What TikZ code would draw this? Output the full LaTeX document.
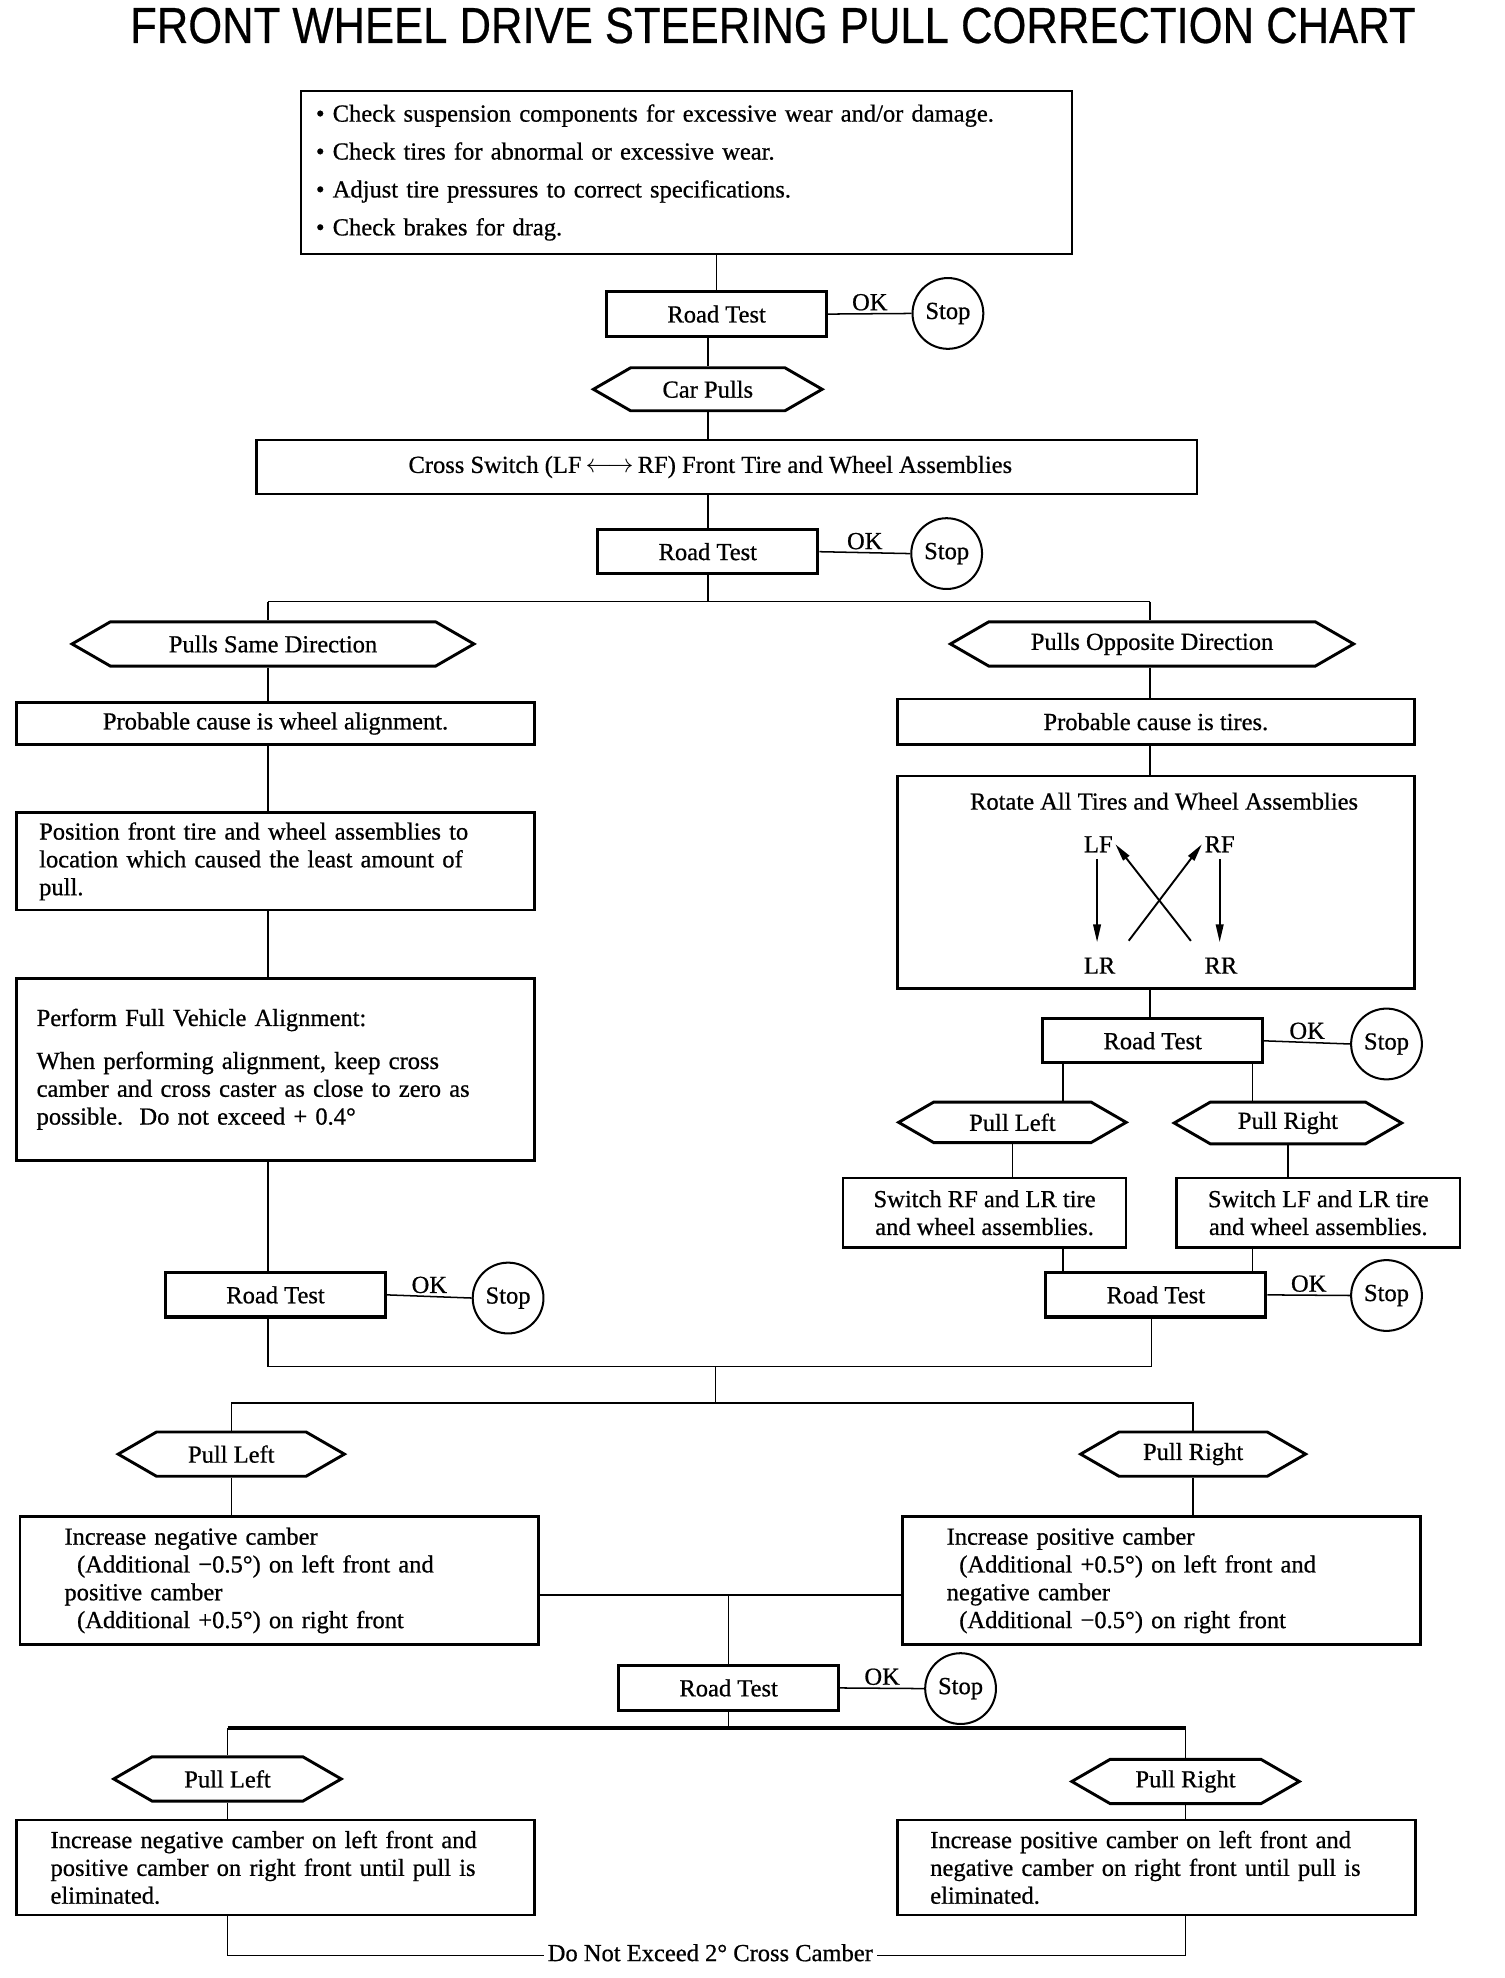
\documentclass[tikz,border=0pt]{standalone}
\usepackage{fontspec}
\setmainfont{Liberation Serif}[FakeBold=0.7]
\setsansfont{Liberation Sans}[FakeBold=0.5]
\usetikzlibrary{shapes.symbols,arrows.meta}

\tikzset{
  conn/.style={line width=1.2pt},
  box/.style={draw, line width=2pt, inner sep=0pt, align=center},
  lbox/.style={box, align=left},
  rtest/.style={draw, line width=2.4pt, inner sep=0pt, minimum width=174pt, minimum height=35pt},
  hexa/.style={draw, line width=2.3pt, shape=signal, signal to=west and east, signal pointer angle=60, inner sep=0pt, minimum height=35pt},
  stopc/.style={draw, circle, line width=1.6pt, minimum size=56pt, inner sep=0pt},
  oklab/.style={midway, above, inner sep=2pt},
  tyre/.style={inner sep=2pt},
  rarrow/.style={line width=1.5pt, -{Triangle[length=14pt,width=6pt]}},
}

\begin{document}
\begin{tikzpicture}[x=1pt, y=-1pt, every node/.style={font=\fontsize{19.4}{22}\selectfont}]
\useasboundingbox (0,0) rectangle (1190,1565);

% title
\node[anchor=base, inner sep=0pt] (title) at (611.5,34) {\resizebox{1017pt}{28pt}{\sffamily FRONT WHEEL DRIVE STEERING PULL CORRECTION CHART}};

% checks and first road test
\node[lbox, text width=586pt, inner xsep=12pt, minimum height=129pt, font=\fontsize{19.4}{30}\selectfont] (chk) at (543,136.5)
  {\textbullet\ Check suspension components for excessive wear and/or damage.\\
   \textbullet\ Check tires for abnormal or excessive wear.\\
   \textbullet\ Adjust tire pressures to correct specifications.\\
   \textbullet\ Check brakes for drag.};
\node[rtest] (rt1) at (567,248.5) {Road Test};
\node[stopc] (stop1) at (750,248) {Stop};
\draw[conn] (chk.south -| rt1) -- (rt1.north);
\draw[conn] (rt1.east) -- (stop1.west) node[oklab] {OK};

\node[hexa, minimum width=181pt, minimum height=34pt] (cp) at (560,308) {Car Pulls};
\draw[conn] (rt1.south -| cp) -- (cp.north);

\node[box, minimum width=744pt, minimum height=43pt] (cs) at (575,369.5)
  {Cross Switch (LF\,$\longleftrightarrow$\,RF) Front Tire and Wheel Assemblies\hspace*{26pt}};
\draw[conn] (cp.south) -- (cp.south |- cs.north);

\node[rtest] (rt2) at (560,436.5) {Road Test};
\node[stopc] (stop2) at (749,438) {Stop};
\draw[conn] (cs.south -| rt2) -- (rt2.north);
\draw[conn] (rt2.east) -- (stop2.west) node[oklab] {OK};

% split
\coordinate (lcol) at (212,476);
\coordinate (rcol) at (910,476);
\draw[conn] (rt2.south) -- (rt2.south |- lcol);
\draw[conn] (lcol) -- (rcol);
\node[hexa, minimum width=318pt] (psd) at (216,509.5) {Pulls Same Direction};
\node[hexa, minimum width=319pt] (pod) at (911.5,509.5) {Pulls Opposite Direction};
\draw[conn] (lcol) -- (lcol |- psd.north);
\draw[conn] (rcol) -- (rcol |- pod.north);

% left side
\node[box, minimum width=410pt, minimum height=33pt] (pcw) at (218,572.5) {Probable cause is wheel alignment.};
\node[lbox, text width=374pt, inner xsep=18pt, minimum height=77pt] (pos) at (218,681.5)
  {Position front tire and wheel assemblies to\\
   location which caused the least amount of\\
   pull.};
\node[lbox, text width=378pt, inner xsep=16pt, minimum height=144pt] (pfa) at (218,846)
  {Perform Full Vehicle Alignment:\\[12pt]
   When performing alignment, keep cross\\
   camber and cross caster as close to zero as\\
   possible.\ \ Do not exceed + 0.4°};
\node[rtest] (rt3) at (218,1024.5) {Road Test};
\node[stopc] (stop3) at (402,1027) {Stop};
\draw[conn] (psd.south -| lcol) -- (pcw.north -| lcol);
\draw[conn] (pcw.south -| lcol) -- (pos.north -| lcol);
\draw[conn] (pos.south -| lcol) -- (pfa.north -| lcol);
\draw[conn] (pfa.south -| lcol) -- (rt3.north -| lcol);
\draw[conn] (rt3.east) -- (stop3.west) node[oklab] {OK};

% right side
\node[box, minimum width=409pt, minimum height=36pt] (pct) at (914.5,571) {Probable cause is tires.};
\node[box, minimum width=409pt, minimum height=168pt] (rot) at (914.5,698) {};
\node (rott) at (921,634) {Rotate All Tires and Wheel Assemblies};
\node[tyre] (lf) at (869,668) {LF};
\node[tyre] (rf) at (965,668) {RF};
\node[tyre] (lr) at (870,764) {LR};
\node[tyre] (rr) at (966,764) {RR};
\draw[rarrow, shorten <=3pt, shorten >=10pt] (lf.south -| 868,0) -- (lr.north -| 868,0);
\draw[rarrow, shorten <=3pt, shorten >=10pt] (rf.south) -- (rr.north -| rf.south);
\draw[rarrow, shorten <=14pt] (rr.north west) -- (lf.east);
\draw[rarrow, shorten <=14pt] (lr.north east) -- (rf.west);
\draw[conn] (pod.south -| rcol) -- (pct.north -| rcol);
\draw[conn] (pct.south -| rcol) -- (rot.north -| rcol);

\node[rtest] (rt4) at (912,823.5) {Road Test};
\node[stopc] (stop4) at (1097,826) {Stop};
\draw[conn] (rot.south -| rcol) -- (rt4.north -| rcol);
\draw[conn] (rt4.east) -- (stop4.west) node[oklab] {OK};

\coordinate (llane) at (841,0);
\coordinate (rlane) at (991,0);
\node[hexa, minimum width=180pt, minimum height=32pt] (pl1) at (801,888) {Pull Left};
\node[hexa, minimum width=180pt, minimum height=33pt] (pr1) at (1019,888.5) {Pull Right};
\draw[conn] (rt4.south -| llane) -- (pl1.north -| llane);
\draw[conn] (rt4.south -| rlane) -- (pr1.north -| rlane);
\node[box, minimum width=224pt, minimum height=55pt] (swrf) at (779,959.5) {Switch RF and LR tire\\and wheel assemblies.};
\node[box, minimum width=224pt, minimum height=55pt] (swlf) at (1043,959.5) {Switch LF and LR tire\\and wheel assemblies.};
\draw[conn] (pl1.south) -- (pl1.south |- swrf.north);
\draw[conn] (pr1.south) -- (pr1.south |- swlf.north);

\node[rtest] (rt5) at (914.5,1024.5) {Road Test};
\node[stopc] (stop5) at (1097,1025) {Stop};
\draw[conn] (swrf.south -| llane) -- (rt5.north -| llane);
\draw[conn] (swlf.south -| rlane) -- (rt5.north -| rlane);
\draw[conn] (rt5.east) -- (stop5.west) node[oklab] {OK};

% join
\coordinate (j2l) at (212,1081);
\coordinate (j2r) at (911,1081);
\coordinate (j2m) at (566,1081);
\coordinate (j3m) at (566,1110);
\draw[conn] (rt3.south -| j2l) -- (j2l) -- (j2r) -- (rt5.south -| j2r);
\draw[conn] (j2m) -- (j3m);

\node[hexa, minimum width=179pt] (pl2) at (183,1150.5) {Pull Left};
\node[hexa, minimum width=178pt] (pr2) at (944,1150.5) {Pull Right};
\draw[conn] (pl2.north) |- (j3m) -| (pr2.north);

\node[lbox, text width=340pt, inner xsep=35pt, minimum height=101pt] (ineg) at (221,1250.5)
  {Increase negative camber\\
   \hspace*{10pt}(Additional −0.5°) on left front and\\
   positive camber\\
   \hspace*{10pt}(Additional +0.5°) on right front};
\node[lbox, text width=340pt, inner xsep=35pt, minimum height=101pt] (ipos) at (919,1250.5)
  {Increase positive camber\\
   \hspace*{10pt}(Additional +0.5°) on left front and\\
   negative camber\\
   \hspace*{10pt}(Additional −0.5°) on right front};
\draw[conn] (pl2.south) -- (pl2.south |- ineg.north);
\draw[conn] (pr2.south) -- (pr2.south |- ipos.north);

\coordinate (mid) at (573,1262);
\draw[conn] (ineg.east |- mid) -- (ipos.west |- mid);
\node[rtest] (rt6) at (576.5,1335.5) {Road Test};
\node[stopc] (stop6) at (760,1336) {Stop};
\draw[conn] (rt6.north |- mid) -- (rt6.north);
\draw[conn] (rt6.east) -- (stop6.west) node[oklab] {OK};

% last split
\coordinate (j4) at (573,1367);
\node[hexa, minimum width=180pt] (pl3) at (180,1407.5) {Pull Left};
\node[hexa, minimum width=180pt] (pr3) at (938,1409.5) {Pull Right};
\draw[conn] (rt6.south) -- (rt6.south |- j4);
\draw[line width=3pt] (pl3.north |- j4) -- (pr3.north |- j4);
\draw[conn] (pl3.north |- j4) -- (pl3.north);
\draw[conn] (pr3.north |- j4) -- (pr3.north);

\node[lbox, text width=356pt, inner xsep=27pt, minimum height=75pt] (bneg) at (218,1477.5)
  {Increase negative camber on left front and\\
   positive camber on right front until pull is\\
   eliminated.};
\node[lbox, text width=358pt, inner xsep=26pt, minimum height=75pt] (bpos) at (915,1477.5)
  {Increase positive camber on left front and\\
   negative camber on right front until pull is\\
   eliminated.};
\draw[conn] (pl3.south) -- (pl3.south |- bneg.north);
\draw[conn] (pr3.south) -- (pr3.south |- bpos.north);

\coordinate (bot) at (562,1547);
\draw[conn] (bneg.south -| pl3) |- (bot) -| (bpos.south -| pr3);
\node[fill=white, inner sep=3pt] (dne) at (562,1545) {Do Not Exceed 2° Cross Camber};
\end{tikzpicture}
\end{document}
